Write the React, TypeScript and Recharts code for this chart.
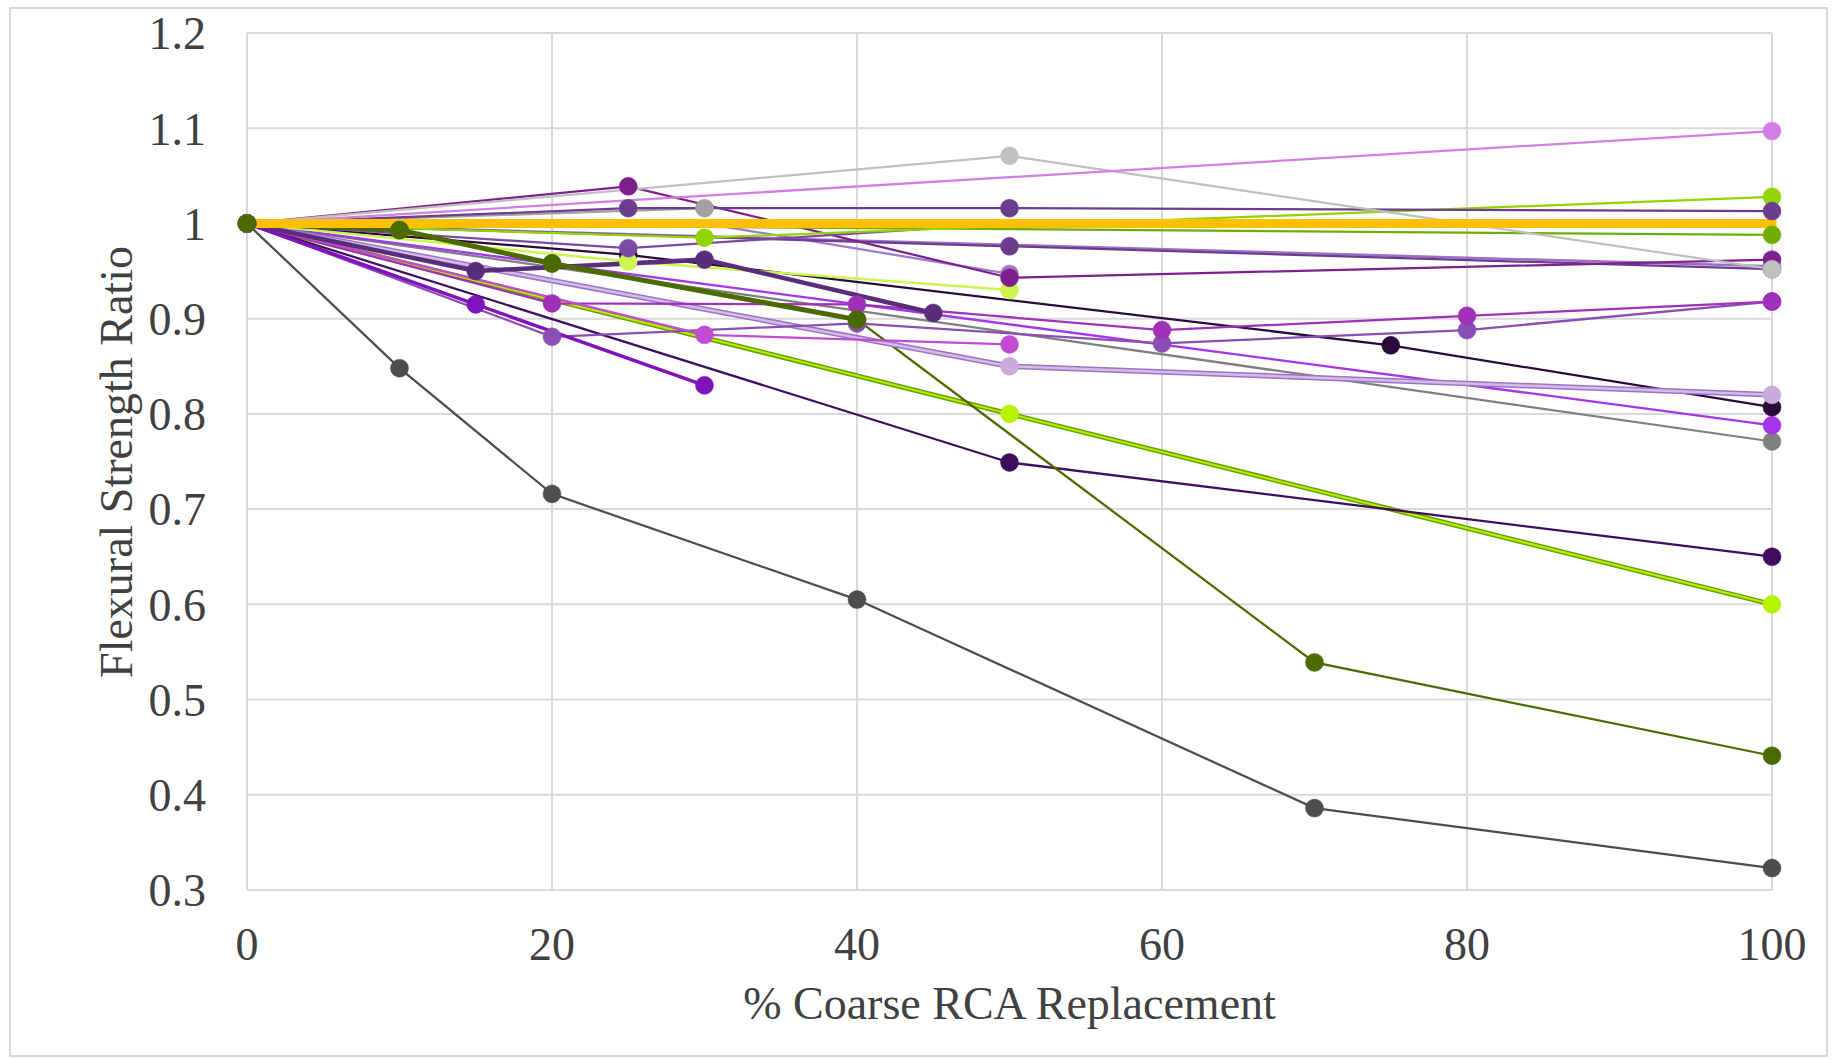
import React from "react";
import { LineChart, Line, XAxis, YAxis, CartesianGrid } from "recharts";

const W = 1833;
const H = 1059;
const FONT = '"Liberation Serif", "Times New Roman", serif';

const xTicks = [0, 20, 40, 60, 80, 100];
const yTicks = [0.3, 0.4, 0.5, 0.6, 0.7, 0.8, 0.9, 1, 1.1, 1.2];

// [% coarse RCA, flexural strength ratio]
const grayLow = [[0, 1], [10, 0.848], [20, 0.716], [40, 0.605], [70, 0.386], [100, 0.323]];
const oliveThin = [[0, 1], [10, 0.993], [20, 0.958], [40, 0.899], [70, 0.539], [100, 0.441]];
const oliveThick = [[0, 1], [10, 0.993], [20, 0.958], [40, 0.899]];
const limeDouble = [[0, 1], [50, 0.8], [100, 0.6]];
const darkPurple = [[0, 1], [50, 0.749], [100, 0.65]];
const grayMid = [[0, 1], [100, 0.771]];
const violetLong = [[0, 1], [100, 0.788]];
const nearBlack = [[0, 1], [25, 0.967], [75, 0.872], [100, 0.807]];
const lavender = [[0, 1], [50, 0.85], [100, 0.82]];
const purpleWave = [[0, 1], [20, 0.881], [40, 0.895], [60, 0.874], [80, 0.888], [100, 0.918]];
const magentaWave = [[0, 1], [20, 0.916], [40, 0.915], [60, 0.888], [80, 0.903], [100, 0.918]];
const violetShort = [[0, 1], [15, 0.915], [30, 0.83]];
const lightMagenta = [[0, 1], [30, 0.883], [50, 0.873]];
const thickPurple = [[0, 1], [15, 0.95], [30, 0.962], [45, 0.906]];
const lightLime = [[0, 1], [25, 0.96], [50, 0.93]];
const lightPurple = [[0, 1], [30, 1.0], [50, 0.947]];
const purpleFlat = [[0, 1], [50, 0.976], [100, 0.952]];
const lilacFlat = [[0, 1], [100, 0.955]];
const plumPeak = [[0, 1], [25, 1.039], [50, 0.943], [100, 0.962]];
const greenFlat = [[0, 1], [100, 0.988]];
const purpleDip = [[0, 1], [25, 0.974], [50, 1.0], [100, 1.0]];
const limeGreen = [[0, 1], [30, 0.985], [100, 1.028]];
const grayShort = [[0, 1], [30, 1.016]];
const purpleHigh = [[0, 1], [25, 1.016], [50, 1.016], [100, 1.013]];
const lightGray = [[0, 1], [50, 1.071], [100, 0.952]];
const orchid = [[0, 1], [100, 1.097]];
const reference = [[0, 1], [100, 1]];

const toRows = (pts: number[][]) => pts.map(([x, y]) => ({ x, y }));

type S = { id: string; pts: number[][]; color: string; width: number; dot?: string | false };

const series: S[] = [
  { id: "grayLow", pts: grayLow, color: "#4D4D4D", width: 2.25 },
  { id: "limeEdge", pts: limeDouble, color: "#6E9E00", width: 5, dot: false },
  { id: "lime", pts: limeDouble, color: "#B4F200", width: 2, dot: "#B4F200" },
  { id: "darkPurple", pts: darkPurple, color: "#3F0D5E", width: 2.25 },
  { id: "oliveThin", pts: oliveThin, color: "#4B6B00", width: 2.25 },
  { id: "grayMid", pts: grayMid, color: "#7F7F7F", width: 2.25 },
  { id: "violetLong", pts: violetLong, color: "#A535E8", width: 2.25 },
  { id: "nearBlack", pts: nearBlack, color: "#2A0A3A", width: 2.25 },
  { id: "lavEdge", pts: lavender, color: "#9B74C4", width: 5.5, dot: false },
  { id: "lav", pts: lavender, color: "#D4BCE6", width: 2.5, dot: "#C9ABDD" },
  { id: "purpleWave", pts: purpleWave, color: "#8A4DB3", width: 2.25 },
  { id: "magentaWave", pts: magentaWave, color: "#A030B8", width: 2.25 },
  { id: "violetShort", pts: violetShort, color: "#7F12BA", width: 3.5 },
  { id: "lightMagenta", pts: lightMagenta, color: "#C24BD4", width: 2.25 },
  { id: "lightLime", pts: lightLime, color: "#CCF550", width: 2.5 },
  { id: "lightPurple", pts: lightPurple, color: "#A07AC8", width: 2.25 },
  { id: "lilacFlat", pts: lilacFlat, color: "#9A6FC4", width: 2.5 },
  { id: "purpleFlat", pts: purpleFlat, color: "#6B3D8C", width: 2.25 },
  { id: "plumPeak", pts: plumPeak, color: "#7E1F8E", width: 2.25 },
  { id: "greenFlat", pts: greenFlat, color: "#70AD00", width: 2.25 },
  { id: "purpleDip", pts: purpleDip, color: "#7A4AA3", width: 2.25 },
  { id: "limeGreen", pts: limeGreen, color: "#92D400", width: 2.25 },
  { id: "grayShort", pts: grayShort, color: "#A0A0A0", width: 2.25 },
  { id: "purpleHigh", pts: purpleHigh, color: "#6B3D8C", width: 2.25 },
  { id: "lightGray", pts: lightGray, color: "#C0C0C0", width: 2.25 },
  { id: "orchid", pts: orchid, color: "#D27FE3", width: 2.25 },
  { id: "thickPurple", pts: thickPurple, color: "#5A2D7A", width: 4.5 },
  { id: "oliveThick", pts: oliveThick, color: "#4B6B00", width: 5 },
  { id: "reference", pts: reference, color: "#FFC000", width: 9, dot: false },
];

const tickStyle = { fontSize: 46, fill: "#404040", fontFamily: FONT };

// markers sitting on the 1.0 reference line are hidden beneath it in the original
const makeDot = (fill: string) => (props: any) => {
  const { cx, cy, payload, index } = props;
  if (payload && payload.y === 1 && payload.x > 0) return <g key={`d${index}`} />;
  return <circle key={`d${index}`} cx={cx} cy={cy} r={9} fill={fill} stroke={fill} strokeWidth={0.5} />;
};

export default function App() {
  return (
    <div style={{ position: "absolute", left: 0, top: 0, width: W, height: H, background: "#fff", fontFamily: FONT }}>
      <div
        style={{
          position: "absolute",
          left: 9,
          top: 7,
          width: 1815,
          height: 1046,
          border: "2px solid #D9D9D9",
        }}
      />
      <LineChart width={W} height={H} margin={{ top: 33, right: 61, bottom: 0, left: 0 }}>
        <CartesianGrid stroke="#D9D9D9" strokeWidth={2} />
        <XAxis
          dataKey="x"
          type="number"
          domain={[0, 100]}
          ticks={xTicks}
          interval={0}
          axisLine={false}
          tickLine={false}
          tickSize={0}
          tickMargin={37}
          height={169}
          tick={tickStyle}
        />
        <YAxis
          type="number"
          domain={[0.3, 1.2]}
          ticks={yTicks}
          interval={0}
          tickFormatter={(v: number) => String(Number(v.toFixed(1)))}
          axisLine={false}
          tickLine={false}
          tickSize={0}
          tickMargin={41}
          width={247}
          tick={tickStyle}
        />
        {series.map((s) => (
          <Line
            key={s.id}
            data={toRows(s.pts)}
            dataKey="y"
            type="linear"
            stroke={s.color}
            strokeWidth={s.width}
            strokeLinecap={s.id === "reference" ? "square" : "round"}
            dot={s.dot === false ? false : makeDot(s.dot ?? s.color)}
            activeDot={false}
            isAnimationActive={false}
          />
        ))}
      </LineChart>
      <svg
        width={W}
        height={H}
        style={{ position: "absolute", left: 0, top: 0, pointerEvents: "none" }}
      >
        <text x={1009.5} y={1019} textAnchor="middle" fontSize={46} fill="#404040" fontFamily={FONT}>
          % Coarse RCA Replacement
        </text>
        <text
          transform="translate(132,462) rotate(-90)"
          textAnchor="middle"
          fontSize={46}
          fill="#404040"
          fontFamily={FONT}
        >
          Flexural Strength Ratio
        </text>
      </svg>
    </div>
  );
}
